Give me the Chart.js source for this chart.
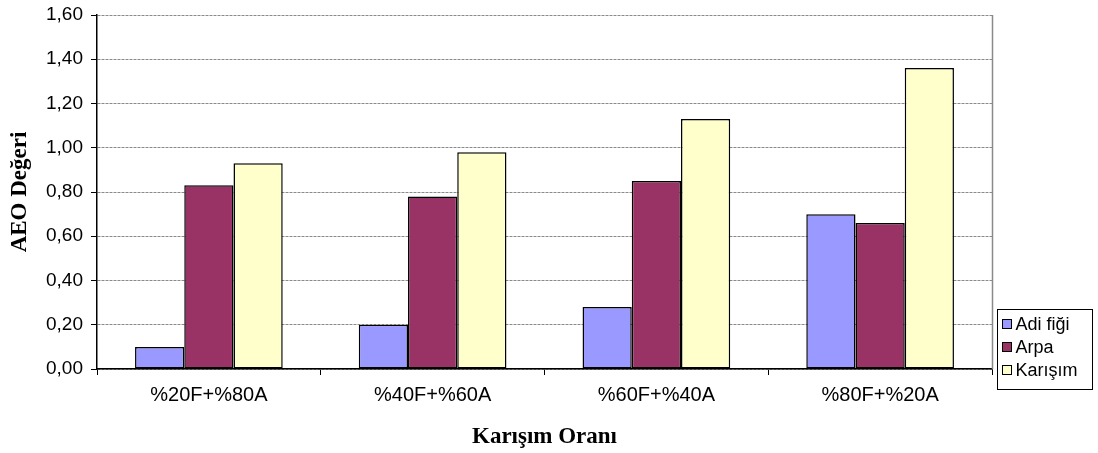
<!DOCTYPE html>
<html>
<head>
<meta charset="utf-8">
<script src="https://cdn.jsdelivr.net/npm/chart.js@4/dist/chart.umd.min.js"></script>
<style>
  html, body { margin: 0; padding: 0; background: #ffffff; }
  #wrap { width: 1098px; height: 453px; }
</style>
</head>
<body>
<div id="wrap"><canvas id="c" width="1098" height="453"></canvas></div>
<script>
// Mixture ratios (vetch F + barley A)
const categories = ['%20F+%80A', '%40F+%60A', '%60F+%40A', '%80F+%20A'];
// AEO values per series
const adiFigi = [0.10, 0.20, 0.28, 0.70];
const arpa    = [0.83, 0.78, 0.85, 0.66];
const karisim = [0.93, 0.98, 1.13, 1.36];
const seriesNames = ['Adi fiği', 'Arpa', 'Karışım'];
// Value axis ticks
const yTickValues = [0, 0.2, 0.4, 0.6, 0.8, 1.0, 1.2, 1.4, 1.6];

const SANS = '"Liberation Sans", Arial, sans-serif';
const SERIF = '"Liberation Serif", "Times New Roman", serif';

const fmt = v => v.toFixed(2).replace('.', ',');

// Gray frame on the right side of the plot area
const frameRight = {
  id: 'frameRight',
  beforeDatasetsDraw(chart) {
    const { ctx, chartArea: a } = chart;
    ctx.save();
    ctx.strokeStyle = '#8a8a8a';
    ctx.lineWidth = 1.5;
    ctx.beginPath();
    ctx.moveTo(Math.round(a.right) + 0.5, a.top);
    ctx.lineTo(Math.round(a.right) + 0.5, a.bottom);
    ctx.stroke();
    ctx.restore();
  }
};

// Boxed legend at the lower right
const boxLegend = {
  id: 'boxLegend',
  afterDraw(chart) {
    const { ctx, chartArea: a } = chart;
    const x = Math.round(a.right) + 5.5;
    const y = 309.5;
    const w = 95, h = 80;
    ctx.save();
    ctx.strokeStyle = '#000';
    ctx.lineWidth = 1;
    ctx.fillStyle = '#fff';
    ctx.fillRect(x, y, w, h);
    ctx.strokeRect(x, y, w, h);
    ctx.font = '18px ' + SANS;
    ctx.textBaseline = 'middle';
    ctx.textAlign = 'left';
    chart.data.datasets.forEach((ds, i) => {
      const cy = y + 15 + i * 23;
      ctx.fillStyle = ds.backgroundColor;
      ctx.fillRect(x + 5, cy - 5, 9, 9);
      ctx.strokeStyle = '#000';
      ctx.strokeRect(x + 5, cy - 5, 9, 9);
      ctx.fillStyle = '#000';
      ctx.fillText(ds.label, x + 18, cy + 1);
    });
    ctx.restore();
  }
};

const barStyle = { borderColor: '#000', borderWidth: 1.5, borderSkipped: false };

new Chart(document.getElementById('c'), {
  type: 'bar',
  data: {
    labels: categories,
    datasets: [
      Object.assign({ label: seriesNames[0], data: adiFigi, backgroundColor: '#9999FF' }, barStyle),
      Object.assign({ label: seriesNames[1], data: arpa, backgroundColor: '#993366' }, barStyle),
      Object.assign({ label: seriesNames[2], data: karisim, backgroundColor: '#FFFFCC' }, barStyle)
    ]
  },
  options: {
    responsive: false,
    animation: false,
    devicePixelRatio: 1,
    categoryPercentage: 0.66,
    barPercentage: 1.0,
    layout: { padding: { top: 15, right: 106, left: 0, bottom: 0 } },
    plugins: {
      legend: { display: false },
      tooltip: { enabled: false }
    },
    scales: {
      x: {
        afterFit(s) { s.height = 84; s.paddingLeft = 0; s.paddingRight = 0; },
        grid: {
          offset: true,
          drawOnChartArea: false,
          tickLength: 6,
          tickColor: '#000',
          lineWidth: 1
        },
        border: { color: '#000', width: 1.5 },
        ticks: { color: '#000', font: { family: SANS, size: 20 }, padding: 8 },
        title: {
          display: true,
          text: 'Karışım Oranı',
          color: '#000',
          font: { family: SERIF, size: 23, weight: 'bold' },
          padding: { top: 0, bottom: 2 }
        }
      },
      y: {
        min: 0,
        max: 1.6,
        afterFit(s) { s.width = 97; s.paddingTop = 0; s.paddingBottom = 0; },
        afterBuildTicks(s) { s.ticks = yTickValues.map(v => ({ value: v })); },
        grid: {
          color: '#8a8a8a',
          lineWidth: 1,
          tickColor: '#000',
          tickLength: 6
        },
        border: { color: '#000', width: 1.5, dash: [3, 1] },
        ticks: {
          color: '#000',
          font: { family: SANS, size: 19 },
          padding: 8,
          callback: v => fmt(v)
        },
        title: {
          display: true,
          text: 'AEO Değeri',
          color: '#000',
          font: { family: SERIF, size: 23, weight: 'bold' },
          padding: { top: 6, bottom: 0 }
        }
      }
    }
  },
  plugins: [frameRight, boxLegend]
});
</script>
</body>
</html>
